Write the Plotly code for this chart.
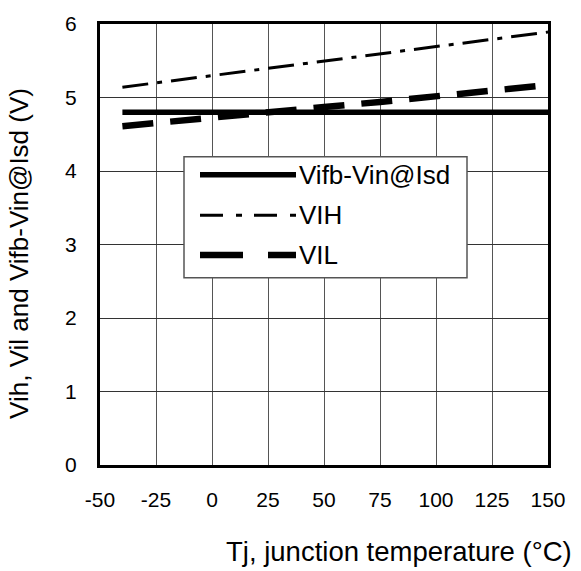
import plotly.graph_objects as go

# ---- data ----
temps = [-40, -25, 0, 25, 50, 75, 100, 125, 150]
vifb_vin = [4.80, 4.80, 4.80, 4.80, 4.80, 4.80, 4.80, 4.80, 4.80]
vih = [5.14, 5.20, 5.30, 5.40, 5.50, 5.60, 5.70, 5.80, 5.89]
vil = [4.61, 4.65, 4.73, 4.80, 4.87, 4.94, 5.02, 5.09, 5.17]
x_ticks = [-50, -25, 0, 25, 50, 75, 100, 125, 150]
y_ticks = [0, 1, 2, 3, 4, 5, 6]

FONT = "Arial, Liberation Sans, sans-serif"
W, H = 581, 571
ML, MR, MT, MB = 100, 33, 20, 106
PW, PH = W - ML - MR, H - MT - MB

def px(xw):
    return (xw - ML) / PW

def py(yw):
    return (H - MB - yw) / PH

fig = go.Figure()
fig.add_trace(go.Scatter(x=temps, y=vifb_vin, mode="lines", name="Vifb-Vin@Isd",
                         line=dict(color="black", width=5.5)))
fig.add_trace(go.Scatter(x=temps, y=vih, mode="lines", name="VIH",
                         line=dict(color="black", width=3, dash="26px,9px,5px,9px")))
fig.add_trace(go.Scatter(x=temps, y=vil, mode="lines", name="VIL",
                         line=dict(color="black", width=6.5, dash="31px,17px")))

shapes = []
annotations = []
# custom legend box
shapes.append(dict(type="rect", xref="paper", yref="paper",
                   x0=px(184), x1=px(467), y0=py(276), y1=py(154),
                   line=dict(color="#555", width=1.5), fillcolor="white", layer="above"))
leg = [("Vifb-Vin@Isd", 172, dict(color="black", width=5.5)),
       ("VIH", 213, dict(color="black", width=3, dash="23px,13px,6px,12px")),
       ("VIL", 253, dict(color="black", width=6.5, dash="43px,25px"))]
for name, yy, ln in leg:
    shapes.append(dict(type="line", xref="paper", yref="paper",
                       x0=px(200), x1=px(296), y0=py(yy), y1=py(yy), line=ln, layer="above"))
    annotations.append(dict(text=name, xref="paper", yref="paper", x=px(297), y=py(yy),
                            xanchor="left", yanchor="middle", showarrow=False,
                            font=dict(family=FONT, size=26, color="black")))

annotations.append(dict(text="Tj, junction temperature (°C)", xref="paper", yref="paper",
                        x=px(224), y=py(552), xanchor="left", yanchor="middle",
                        showarrow=False, font=dict(family=FONT, size=27.5, color="black")))
annotations.append(dict(text="Vih, Vil and Vifb-Vin@Isd (V)", xref="paper", yref="paper",
                        x=px(19), y=py(252), xanchor="center", yanchor="middle", textangle=-90,
                        showarrow=False, font=dict(family=FONT, size=26, color="black")))

fig.update_layout(
    width=W, height=H,
    margin=dict(l=ML, r=MR, t=MT, b=MB),
    paper_bgcolor="white", plot_bgcolor="white",
    showlegend=False,
    shapes=shapes, annotations=annotations,
    font=dict(family=FONT, size=21, color="black"),
)
fig.update_xaxes(range=[-50, 150], tickvals=x_ticks, ticktext=[str(v) for v in x_ticks],
                 showgrid=True, gridcolor="#555", gridwidth=1, zeroline=False,
                 showline=True, linecolor="black", linewidth=3, mirror=True,
                 ticks="", ticklabelstandoff=14)
fig.update_yaxes(range=[0, 6], tickvals=y_ticks, ticktext=[str(v) for v in y_ticks],
                 showgrid=True, gridcolor="#333", gridwidth=1, zeroline=False,
                 showline=True, linecolor="black", linewidth=3, mirror=True,
                 ticks="", ticklabelstandoff=16)

fig.write_html("out.html", config={"displayModeBar": False},
               post_script="document.body.style.margin='0';")
